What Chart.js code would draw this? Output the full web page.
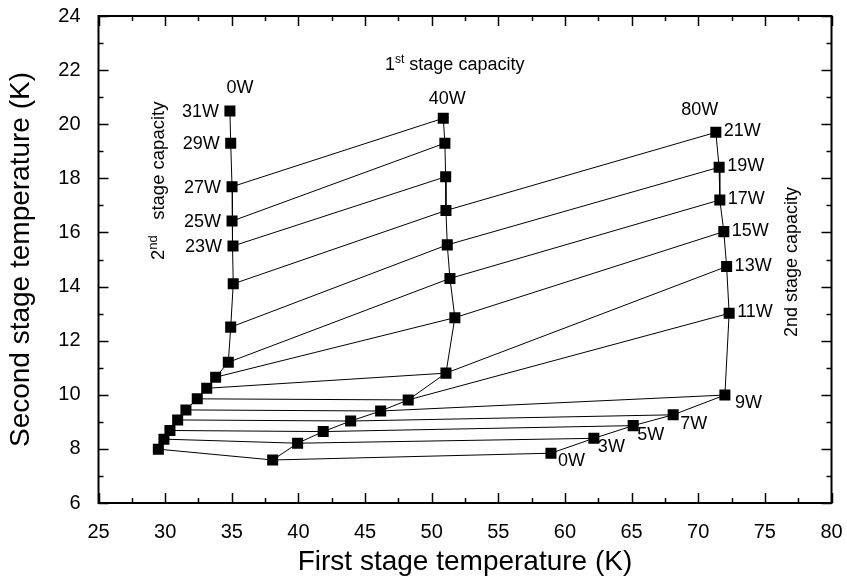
<!DOCTYPE html>
<html>
<head>
<meta charset="utf-8">
<title>Two stage capacity map</title>
<script src="https://cdn.jsdelivr.net/npm/chart.js@4.4.1/dist/chart.umd.min.js"></script>
<style>
  html, body { margin: 0; padding: 0; background: #fff; }
</style>
</head>
<body>
<canvas id="chart" width="847" height="583"></canvas>
<script>
// 2nd stage heat loads (W) for each 1st stage load column
const loads0W = [31, 29, 27, 25, 23, 21, 19, 17, 15, 13, 11, 9, 7, 5, 3, 0];
const loads40W = [27, 25, 23, 21, 19, 17, 15, 13, 11, 9, 7, 5, 3, 0];
const loads80W = [21, 19, 17, 15, 13, 11, 9, 7, 5, 3, 0];

// first stage temperature (K)
const t1_0W = [34.86, 34.92, 35.02, 35.02, 35.09, 35.11, 34.92, 34.74, 33.79, 33.12, 32.41, 31.56, 30.94, 30.36, 29.91, 29.49];
const t1_40W = [50.87, 50.99, 51.05, 51.07, 51.17, 51.37, 51.74, 51.07, 48.24, 46.17, 43.92, 41.86, 39.94, 38.07];
const t1_80W = [71.32, 71.57, 71.62, 71.92, 72.13, 72.32, 72.00, 68.12, 65.12, 62.17, 58.95];

// second stage temperature (K)
const t2_0W = [20.49, 19.30, 17.69, 16.42, 15.50, 14.10, 12.50, 11.20, 10.65, 10.24, 9.85, 9.44, 9.07, 8.68, 8.36, 7.99];
const t2_40W = [20.22, 19.30, 18.06, 16.81, 15.54, 14.30, 12.85, 10.80, 9.81, 9.40, 9.03, 8.64, 8.21, 7.59];
const t2_80W = [19.70, 18.41, 17.20, 16.03, 14.74, 13.01, 9.99, 9.26, 8.86, 8.39, 7.84];

const xTicks = [25, 30, 35, 40, 45, 50, 55, 60, 65, 70, 75, 80];
const yTicks = [6, 8, 10, 12, 14, 16, 18, 20, 22, 24];

const FONT = "'Liberation Sans', Arial, sans-serif";

const columns = [
  { name: '0W', loads: loads0W, t1: t1_0W, t2: t2_0W },
  { name: '40W', loads: loads40W, t1: t1_40W, t2: t2_40W },
  { name: '80W', loads: loads80W, t1: t1_80W, t2: t2_80W }
];

function colPoints(c) {
  return c.t1.map((v, i) => ({ x: v, y: c.t2[i] }));
}

// one line per 2nd stage load, joining the columns
function rowPoints(load) {
  const pts = [];
  columns.forEach(c => {
    const i = c.loads.indexOf(load);
    if (i >= 0) pts.push({ x: c.t1[i], y: c.t2[i] });
  });
  return pts;
}

const datasets = [];
columns.forEach(c => {
  datasets.push({
    data: colPoints(c),
    showLine: true,
    borderColor: '#000',
    borderWidth: 1,
    backgroundColor: '#000',
    pointStyle: 'rect',
    pointRadius: 7.8,
    pointBorderWidth: 0
  });
});
loads0W.forEach(l => {
  const pts = rowPoints(l);
  if (pts.length < 2) return;
  datasets.push({
    data: pts,
    showLine: true,
    borderColor: '#000',
    borderWidth: 1,
    pointRadius: 0
  });
});

function line(ctx, x1, y1, x2, y2) {
  ctx.beginPath();
  ctx.moveTo(x1, y1);
  ctx.lineTo(x2, y2);
  ctx.stroke();
}

const frameTicks = {
  id: 'frameTicks',
  afterDraw(chart) {
    const { ctx, chartArea: a, scales: { x, y } } = chart;
    ctx.save();
    ctx.strokeStyle = '#000';
    ctx.lineWidth = 1.5;
    for (let v = 25; v <= 80; v += 2.5) {
      const px = Math.round(x.getPixelForValue(v)) + 0.5;
      const len = v % 5 === 0 ? 10 : 5;
      line(ctx, px, a.bottom, px, a.bottom - len);
      line(ctx, px, a.top, px, a.top + len);
    }
    for (let v = 6; v <= 24; v += 1) {
      const py = Math.round(y.getPixelForValue(v)) + 0.5;
      const len = v % 2 === 0 ? 10 : 5;
      line(ctx, a.left, py, a.left + len, py);
      line(ctx, a.right, py, a.right - len, py);
    }
    ctx.lineWidth = 2;
    ctx.strokeRect(a.left, a.top, a.right - a.left, a.bottom - a.top);
    ctx.restore();
  }
};

function textSup(ctx, x, y, base, sup, rest, size) {
  ctx.font = size + 'px ' + FONT;
  ctx.fillText(base, x, y);
  let cx = x + ctx.measureText(base).width;
  ctx.font = Math.round(size * 0.68) + 'px ' + FONT;
  ctx.fillText(sup, cx, y - size * 0.38);
  cx += ctx.measureText(sup).width;
  ctx.font = size + 'px ' + FONT;
  ctx.fillText(rest, cx, y);
}

const labels = {
  id: 'labels',
  afterDraw(chart) {
    const { ctx, scales: { x, y } } = chart;
    const P = (c, i) => [x.getPixelForValue(c.t1[i]), y.getPixelForValue(c.t2[i])];
    ctx.save();
    ctx.fillStyle = '#000';
    ctx.font = '18px ' + FONT;

    // column headers
    ctx.textAlign = 'center';
    ctx.textBaseline = 'middle';
    let p = P(columns[0], 0);
    ctx.fillText('0W', p[0] + 10, p[1] - 23);
    p = P(columns[1], 0);
    ctx.fillText('40W', p[0] + 4, p[1] - 19);
    p = P(columns[2], 0);
    ctx.fillText('80W', p[0] - 16, p[1] - 22);

    // left side loads on 0W column
    ctx.textAlign = 'right';
    for (let i = 0; i < 5; i++) {
      p = P(columns[0], i);
      ctx.fillText(loads0W[i] + 'W', p[0] - 11, p[1] + 1);
    }

    // right side loads on 80W column
    ctx.textAlign = 'left';
    for (let i = 0; i < 6; i++) {
      p = P(columns[2], i);
      ctx.fillText(loads80W[i] + 'W', p[0] + 8, p[1] - 1);
    }
    const lowOff = [[10, 8], [7, 9], [4, 9], [4, 9], [7, 8]];
    for (let i = 6; i < loads80W.length; i++) {
      p = P(columns[2], i);
      const o = lowOff[i - 6];
      ctx.fillText(loads80W[i] + 'W', p[0] + o[0], p[1] + o[1]);
    }

    // captions
    ctx.textAlign = 'left';
    ctx.textBaseline = 'alphabetic';
    textSup(ctx, 385, 70, '1', 'st', ' stage capacity', 18);

    ctx.save();
    ctx.translate(164, 260);
    ctx.rotate(-Math.PI / 2);
    textSup(ctx, 0, 0, '2', 'nd', '   stage capacity', 18.5);
    ctx.restore();

    ctx.save();
    ctx.translate(797, 337);
    ctx.rotate(-Math.PI / 2);
    ctx.font = '18px ' + FONT;
    ctx.fillText('2nd stage capacity', 0, 0);
    ctx.restore();

    ctx.restore();
  }
};

new Chart(document.getElementById('chart'), {
  type: 'scatter',
  data: { datasets: datasets },
  options: {
    responsive: false,
    animation: false,
    layout: { padding: { top: 16, right: 15.5, left: 0, bottom: 0 } },
    plugins: { legend: { display: false }, tooltip: { enabled: false } },
    scales: {
      x: {
        type: 'linear',
        min: 25,
        max: 80,
        afterBuildTicks: s => { s.ticks = xTicks.map(v => ({ value: v })); },
        afterFit: s => { s.height = 80; s.paddingLeft = 0; s.paddingRight = 0; },
        grid: { display: false },
        border: { display: false },
        ticks: { color: '#000', font: { family: FONT, size: 20 }, padding: 9, maxRotation: 0 },
        title: { display: true, text: 'First stage temperature (K)', color: '#000', font: { family: FONT, size: 28 }, padding: { top: 4 } }
      },
      y: {
        type: 'linear',
        min: 6,
        max: 24,
        afterBuildTicks: s => { s.ticks = yTicks.map(v => ({ value: v })); },
        afterFit: s => { s.width = 98.5; s.paddingTop = 0; s.paddingBottom = 0; },
        grid: { display: false },
        border: { display: false },
        ticks: { color: '#000', font: { family: FONT, size: 20 }, padding: 10 },
        title: { display: true, text: 'Second stage temperature (K)', color: '#000', font: { family: FONT, size: 28 }, padding: { bottom: 0 } }
      }
    }
  },
  plugins: [frameTicks, labels]
});
</script>
</body>
</html>
